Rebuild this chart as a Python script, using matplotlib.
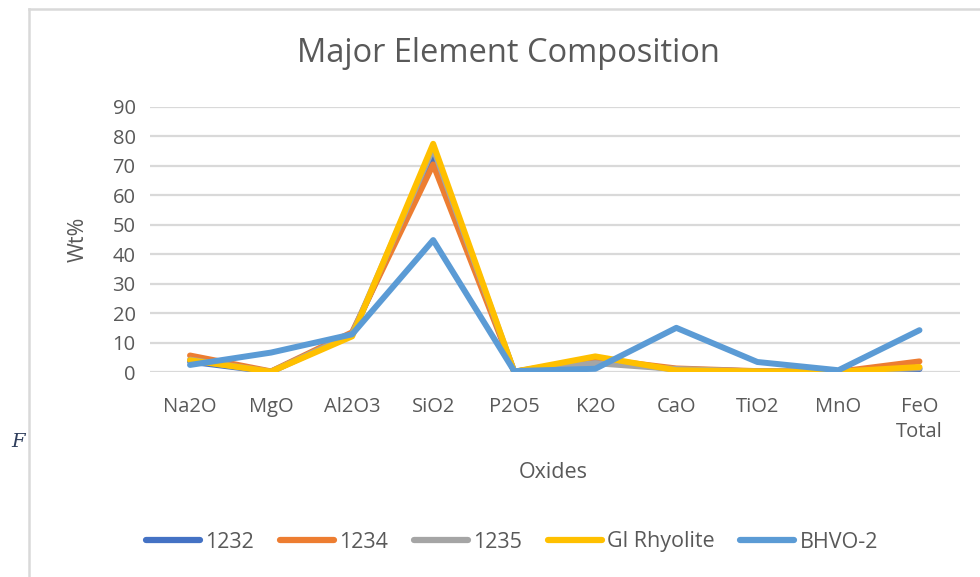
#!/usr/bin/env python3
"""Major element composition line chart (Excel style)."""

import matplotlib

matplotlib.use("Agg")
import matplotlib.pyplot as plt
from matplotlib.lines import Line2D

# Data
oxides = ["Na2O", "MgO", "Al2O3", "SiO2", "P2O5", "K2O", "CaO", "TiO2", "MnO", "FeO\nTotal"]
s1232 = [3.5, 0.1, 12.8, 73.5, 0.1, 4.0, 0.9, 0.2, 0.1, 1.0]
s1234 = [5.6, 0.2, 13.5, 70.5, 0.1, 4.5, 1.2, 0.3, 0.1, 3.6]
s1235 = [4.2, 0.1, 12.8, 76.0, 0.1, 3.0, 1.0, 0.2, 0.1, 1.3]
gl_rhyolite = [4.0, 0.1, 12.1, 77.5, 0.1, 5.3, 0.6, 0.2, 0.1, 1.7]
bhvo2 = [2.4, 6.6, 12.8, 44.8, 0.3, 1.1, 15.0, 3.4, 0.6, 14.2]

series_names = ["1232", "1234", "1235", "Gl Rhyolite", "BHVO-2"]
series_values = [s1232, s1234, s1235, gl_rhyolite, bhvo2]
colors = ["#4472C4", "#ED7D31", "#A5A5A5", "#FFC000", "#5B9BD5"]

TEXT = "#595959"
FONT = ["Open Sans", "DejaVu Sans"]


def main() -> None:
    plt.rcParams["font.family"] = FONT
    fig = plt.figure(figsize=(9.8, 5.77), dpi=100)
    ax = fig.add_axes([149.5 / 980, 205 / 577, (960 - 149.5) / 980, 265 / 577])

    x = list(range(len(oxides)))
    for name, vals, c in zip(series_names, series_values, colors):
        ax.plot(x, vals, color=c, linewidth=4.3, solid_joinstyle="round",
                solid_capstyle="round", label=name, zorder=3)

    ax.set_xlim(-0.5, len(oxides) - 0.5)
    ax.set_ylim(0, 90)
    ax.set_yticks(range(0, 91, 10))
    ax.set_xticks(x)
    ax.set_xticklabels(oxides, linespacing=1.35)
    ax.yaxis.grid(True, color="#D9D9D9", linewidth=1.6, zorder=0)
    ax.set_axisbelow(True)
    for sp in ax.spines.values():
        sp.set_visible(False)
    ax.tick_params(axis="both", length=0, labelsize=14.5, labelcolor=TEXT)
    ax.tick_params(axis="y", pad=10)
    ax.tick_params(axis="x", pad=18)
    for lbl in ax.get_xticklabels():
        lbl.set_verticalalignment("top")

    fig.text(508 / 980, 1 - 54 / 577, "Major Element Composition", ha="center",
             va="center", fontsize=23.5, color=TEXT)
    fig.text(78 / 980, 1 - 239 / 577, "Wt%", ha="center", va="center",
             rotation=90, fontsize=15.5, color=TEXT)
    fig.text(553 / 980, 1 - 472 / 577, "Oxides", ha="center", va="center",
             fontsize=15.5, color=TEXT)

    handles = [Line2D([0], [0], color=c, linewidth=4.5, solid_capstyle="round")
               for c in colors]
    fig.legend(handles, series_names, loc="center", bbox_to_anchor=(512 / 980, 1 - 542 / 577),
               ncol=5, frameon=False, fontsize=15.5, labelcolor=TEXT, handlelength=2.5,
               handletextpad=0.25, columnspacing=1.2)

    # frame of the pasted chart and stray text from the page
    fig.add_artist(Line2D([29 / 980, 29 / 980], [0, 1 - 9 / 577], color="#D9D9D9",
                          linewidth=1.8, transform=fig.transFigure))
    fig.add_artist(Line2D([29 / 980, 1], [1 - 9 / 577, 1 - 9 / 577], color="#D9D9D9",
                          linewidth=1.8, transform=fig.transFigure))
    fig.text(11 / 980, 1 - 442 / 577, "F", ha="left", va="center", fontsize=14,
             style="italic", family=["DejaVu Serif"], color="#2F3E5C")

    fig.savefig("out.png", dpi=100)
    plt.close(fig)


if __name__ == "__main__":
    main()
